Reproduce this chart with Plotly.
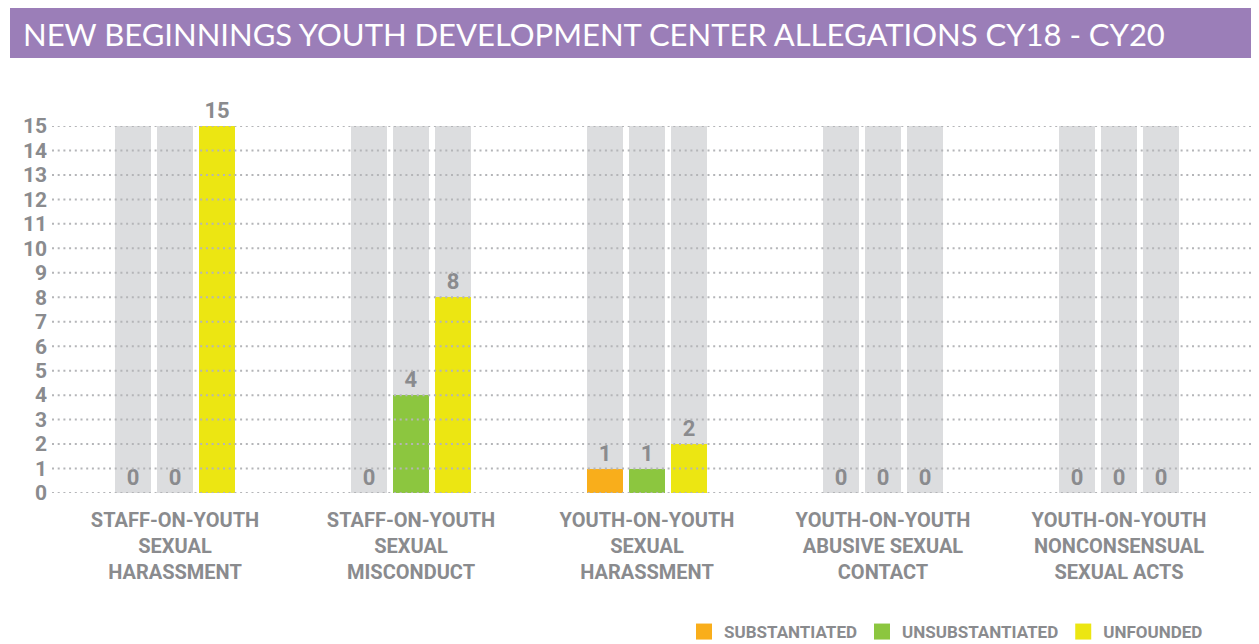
import plotly.graph_objects as go

categories = [
    "STAFF-ON-YOUTH<br>SEXUAL<br>HARASSMENT",
    "STAFF-ON-YOUTH<br>SEXUAL<br>MISCONDUCT",
    "YOUTH-ON-YOUTH<br>SEXUAL<br>HARASSMENT",
    "YOUTH-ON-YOUTH<br>ABUSIVE SEXUAL<br>CONTACT",
    "YOUTH-ON-YOUTH<br>NONCONSENSUAL<br>SEXUAL ACTS",
]
series_names = ["SUBSTANTIATED", "UNSUBSTANTIATED", "UNFOUNDED"]
substantiated = [0, 0, 1, 0, 0]
unsubstantiated = [0, 4, 1, 0, 0]
unfounded = [15, 8, 2, 0, 0]
scale_max = 15
y_ticks = list(range(0, 16))

title = "NEW BEGINNINGS YOUTH DEVELOPMENT CENTER ALLEGATIONS CY18 - CY20"

colors = ["#F9AE1B", "#8CC63F", "#ECE612"]
bg_color = "#DCDDDF"
text_gray = "#8A8B8E"
grid_color = "#B4B5B8"
font_family = "Roboto, Liberation Sans, sans-serif"

# page offset (body margin) -> reference pixel = figure pixel + OFF
OFF = 8
W, H = 1259, 644
pl, pr, pt, pb = 52 - OFF, 0, 126 - OFF, H - (493 - OFF)
plot_w = W - pl - pr
plot_h = H - pt - pb
cat_step = 236.0
first_center = 175.0 - OFF
x_lo = (pl - first_center) / cat_step
x_hi = (W - pr - first_center) / cat_step
bar_w = 36 / cat_step
centers = [-42 / cat_step, 0.0, 42 / cat_step]

def px_to_paper_x(ref_px):
    return (ref_px - OFF - pl) / plot_w

def px_to_paper_y(ref_py):
    return (H - pb - (ref_py - OFF)) / plot_h

fig = go.Figure()
x_idx = list(range(len(categories)))
all_series = [substantiated, unsubstantiated, unfounded]

# background bars
for i in range(3):
    fig.add_trace(go.Bar(
        x=x_idx, y=[scale_max] * len(categories),
        width=bar_w, offset=centers[i] - bar_w / 2,
        marker=dict(color=bg_color, line=dict(width=0)),
        showlegend=False, hoverinfo="skip",
    ))

for i, vals in enumerate(all_series):
    fig.add_trace(go.Bar(
        x=x_idx, y=vals, name=series_names[i],
        width=bar_w, offset=centers[i] - bar_w / 2,
        marker=dict(color=colors[i], line=dict(width=0)),
        text=[str(v) for v in vals], textposition="outside",
        textfont=dict(family=font_family, size=22, color=text_gray, weight="bold"),
        cliponaxis=False, showlegend=False,
    ))
    # legend proxy
    fig.add_trace(go.Scatter(
        x=[None], y=[None], mode="markers", name=series_names[i],
        marker=dict(symbol="square", size=16, color=colors[i]),
        showlegend=True,
    ))

# dotted gridlines drawn above the bars, one per y tick
grid_shapes = [
    dict(type="line", xref="paper", yref="y", x0=0, x1=1, y0=v, y1=v,
         line=dict(color=grid_color, width=2, dash="2px,3.7px"), layer="above")
    for v in y_ticks
]

band = dict(
    type="rect", xref="paper", yref="paper",
    x0=px_to_paper_x(10), x1=px_to_paper_x(W + 20),
    y0=px_to_paper_y(58), y1=px_to_paper_y(8),
    fillcolor="#9B7EB8", line=dict(width=0), layer="below",
)

fig.update_layout(
    width=W, height=H,
    margin=dict(l=pl, r=pr, t=pt, b=pb, pad=0, autoexpand=False),
    paper_bgcolor="white", plot_bgcolor="white",
    barmode="overlay", bargap=0,
    font=dict(family=font_family, color=text_gray, size=20, weight="bold"),
    xaxis=dict(
        range=[x_lo, x_hi], tickmode="array", tickvals=x_idx, ticktext=categories,
        showgrid=False, zeroline=False, showline=False, ticks="",
        tickfont=dict(family=font_family, size=20, color=text_gray, weight="bold"),
        ticklabelstandoff=13, automargin=False, fixedrange=True,
    ),
    yaxis=dict(
        range=[0, scale_max], tickmode="array", tickvals=y_ticks,
        showgrid=False, zeroline=False, showline=False, ticks="",
        tickfont=dict(family=font_family, size=21, color=text_gray, weight="bold"),
        ticklabelstandoff=4, automargin=False,
    ),
    legend=dict(
        orientation="h", x=px_to_paper_x(684), xanchor="left",
        y=px_to_paper_y(632), yanchor="middle",
        font=dict(family=font_family, size=17, color=text_gray, weight="bold"),
        bgcolor="rgba(0,0,0,0)", itemclick=False, itemdoubleclick=False,
        traceorder="normal",
    ),
    showlegend=True,
    shapes=[band] + grid_shapes,
    annotations=[dict(
        text=title, xref="paper", yref="paper",
        x=px_to_paper_x(21), xanchor="left",
        y=px_to_paper_y(34), yanchor="middle",
        showarrow=False,
        font=dict(family="Lato, Noto Sans, sans-serif", size=31, color="white",
                  weight="normal"),
    )],
)

fig.write_html("out.html")
